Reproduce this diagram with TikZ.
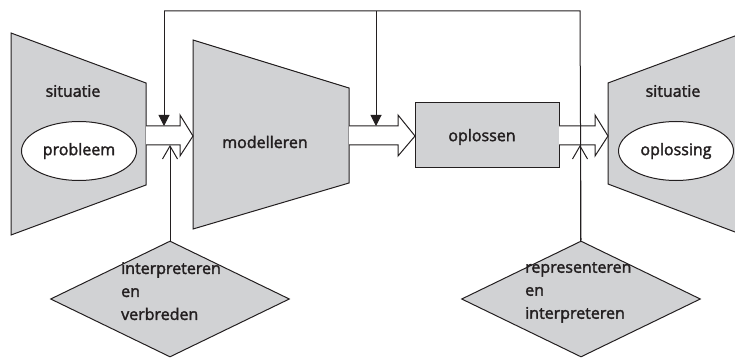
\documentclass[tikz,border=0pt]{standalone}
\usepackage{fontspec}
\setmainfont{Open Sans}
\newfontfamily\lblfont{Open Sans}[FakeBold=2]
\usetikzlibrary{arrows.meta,shapes.geometric}
\definecolor{boxgray}{HTML}{D1D2D4}
\definecolor{ink}{HTML}{231F20}
\tikzset{
  grayshape/.style={draw=ink,fill=boxgray,line width=1pt,line join=miter},
  hollow/.style={draw=ink,fill=white,line width=1pt,line join=miter},
  lbl/.style={font=\lblfont\fontsize{16}{18}\selectfont,text=ink,inner sep=0pt},
  feed/.style={draw=ink,line width=1pt},
  fillarrow/.style={feed,-{Triangle[length=11pt,width=11pt]}},
  openarrow/.style={feed,-{Straight Barb[length=13pt,width=15pt,line width=1pt]}},
  ell/.style={ellipse,draw=ink,fill=white,line width=1pt,minimum width=115pt,minimum height=59pt,inner sep=0pt},
  dia/.style={diamond,draw=ink,fill=boxgray,line width=1pt,minimum width=239pt,minimum height=116pt,inner sep=0pt},
  dtext/.style={lbl,align=left,font=\lblfont\fontsize{16}{23}\selectfont,anchor=north west}
}
\begin{document}
\begin{tikzpicture}[x=1pt,y=-1pt]
\useasboundingbox (0,0) rectangle (735,358);
% left situation trapezoid
\draw[grayshape] (11,33) -- (146,83) -- (146,185) -- (11,235) -- cycle;
\node[lbl] (sit1) at (73,91) {situatie};
\node[ell] (prob) at (79,151) {};
\node[lbl] at (prob.center) {probleem};
% modelleren trapezoid
\draw[grayshape] (193,40) -- (349,88) -- (349,183) -- (193,229) -- cycle;
\node[lbl] (model) at (265,142) {modelleren};
% oplossen box
\draw[grayshape] (415,103) rectangle (559,167);
\node[lbl] (opl) at (482,137) {oplossen};
% right situation trapezoid
\draw[grayshape] (608,83) -- (743,33) -- (743,235) -- (608,184) -- cycle;
\node[lbl] (sit2) at (673,91) {situatie};
\node[ell] (oplg) at (676,151) {};
\node[lbl] at (oplg.center) {oplossing};
% hollow arrows
\draw[hollow] (146,126) -- (180,126) -- (180,115) -- (193,136) -- (180,156) -- (180,145) -- (146,145);
\draw[hollow] (349,126) -- (398,126) -- (398,115) -- (415,136) -- (398,156) -- (398,145) -- (349,145);
\draw[hollow] (559,126) -- (595,126) -- (595,115) -- (608,136) -- (595,156) -- (595,145) -- (559,145);
% diamonds
\node[dia] (d1) at (170,299) {};
\node[dtext] at (121,262) {interpreteren\\en\\verbreden};
\node[dia] (d2) at (581,299) {};
\node[dtext] at (525,262) {representeren\\en\\interpreteren};
% feedback
\coordinate (tr) at (580,11);
\coordinate (tl) at (164,11);
\coordinate (tm) at (376,11);
\coordinate (a1) at (164,126);
\coordinate (a2) at (376,126);
\coordinate (b1) at (170,145);
\coordinate (b2) at (580,145);
\draw[feed] (d2.north) -- (tr) -- (tl);
\draw[fillarrow] (tl) -- (a1);
\draw[fillarrow] (tm) -- (a2);
\draw[openarrow] (d1.north -| b1) -- (b1);
\draw[openarrow] (d2.north -| b2) -- (b2);
\end{tikzpicture}
\end{document}
